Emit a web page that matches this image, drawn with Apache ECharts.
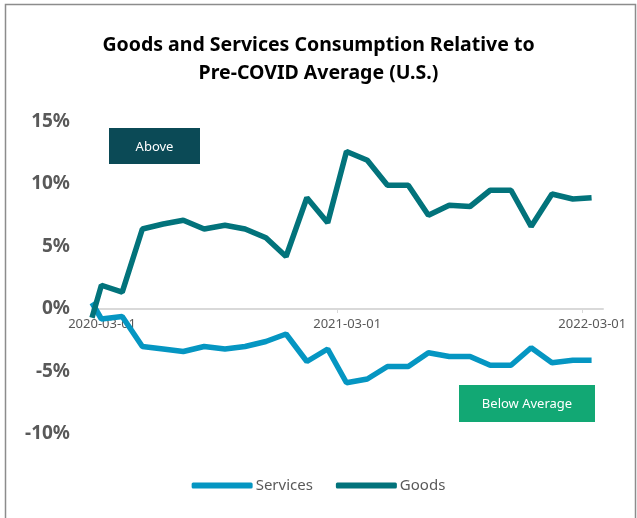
<!DOCTYPE html>
<html>
<head>
<meta charset="utf-8">
<script src="https://cdn.jsdelivr.net/npm/echarts@6/dist/echarts.min.js"></script>
<style>
  html, body { margin: 0; padding: 0; background: #fff; }
  #chart { width: 637px; height: 518px; }
</style>
</head>
<body>
<div id="chart"></div>
<script>
// monthly readings, % vs pre-COVID average
var dates = [
  '2020-03-01', '2020-03-15', '2020-04-15', '2020-05-15', '2020-06-15', '2020-07-15',
  '2020-08-15', '2020-09-15', '2020-10-15', '2020-11-15', '2020-12-15', '2021-01-15',
  '2021-02-15', '2021-03-15', '2021-04-15', '2021-05-15', '2021-06-15', '2021-07-15',
  '2021-08-15', '2021-09-15', '2021-10-15', '2021-11-15', '2021-12-15', '2022-01-15',
  '2022-02-15', '2022-03-15'
];
var services = [0.5, -0.8, -0.6, -3.0, -3.2, -3.4, -3.0, -3.2, -3.0, -2.6, -2.0, -4.2,
  -3.2, -5.9, -5.6, -4.6, -4.6, -3.5, -3.8, -3.8, -4.5, -4.5, -3.1, -4.3, -4.1, -4.1];
var goods = [-0.7, 1.9, 1.35, 6.4, 6.8, 7.1, 6.4, 6.7, 6.4, 5.7, 4.2, 8.9,
  6.9, 12.6, 11.9, 9.9, 9.9, 7.5, 8.3, 8.2, 9.5, 9.5, 6.6, 9.2, 8.8, 8.9];
var tickLabels = ['2020-03-01', '2021-03-01', '2022-03-01'];

var DAY = 86400000;
var t0 = Date.parse(tickLabels[0] + 'T00:00:00Z');
var dayOf = function (s) {
  return Math.round((Date.parse(s + 'T00:00:00Z') - t0) / DAY);
};
var tickDays = tickLabels.map(dayOf);
// Excel-style labels sit a little right of their tick
var labelDays = tickDays.map(function (d) { return d + 15; });

var toPairs = function (vals) {
  return vals.map(function (v, i) { return [dayOf(dates[i]), v]; });
};

var yMin = -10, yMax = 15;
var gridTop = 121.5, gridBottom = 84, chartH = 518;
// lift the x axis (line, ticks, labels) up to the 0% level
var zeroOffset = -(chartH - gridTop - gridBottom) * (0 - yMin) / (yMax - yMin);

var font = 'Noto Sans';
var myChart = echarts.init(document.getElementById('chart'));

var option = {
  animation: false,
  backgroundColor: '#fff',
  title: {
    text: 'Goods and Services Consumption Relative to\nPre-COVID Average (U.S.)',
    left: 'center',
    top: 26,
    textStyle: {
      fontFamily: font,
      fontSize: 19.5,
      fontWeight: 'bold',
      color: '#000',
      lineHeight: 28
    }
  },
  legend: {
    bottom: 20,
    left: 'center',
    icon: 'roundRect',
    itemWidth: 61,
    itemHeight: 6,
    itemGap: 23,
    textStyle: { fontFamily: font, fontSize: 15, color: '#595959', padding: [0, 0, 0, -2] },
    data: ['Services', 'Goods']
  },
  grid: {
    left: 92,
    right: 34,
    top: gridTop,
    bottom: gridBottom
  },
  xAxis: {
    type: 'value',
    min: 0,
    max: 761,
    offset: zeroOffset,
    splitLine: { show: false },
    axisLine: { onZero: false, lineStyle: { color: '#d9d9d9', width: 2 } },
    axisTick: {
      show: true,
      length: 4,
      customValues: tickDays,
      lineStyle: { color: '#d9d9d9', width: 1 }
    },
    axisLabel: {
      customValues: labelDays,
      margin: 9,
      fontFamily: font,
      fontSize: 13,
      color: '#595959',
      formatter: function (v) {
        var i = labelDays.indexOf(v);
        return i >= 0 ? tickLabels[i] : '';
      }
    }
  },
  yAxis: {
    type: 'value',
    min: yMin,
    max: yMax,
    interval: 5,
    splitLine: { show: false },
    axisLine: { show: false },
    axisTick: { show: false },
    axisLabel: {
      margin: 22,
      fontFamily: font,
      fontSize: 19,
      fontWeight: 'bold',
      color: '#595959',
      formatter: '{value}%'
    }
  },
  graphic: [
    {
      type: 'rect',
      left: 3, top: 2,
      shape: { width: 630, height: 530 },
      style: { fill: 'none', stroke: '#8c8c8c', lineWidth: 1.5 },
      silent: true
    },
    {
      type: 'group',
      left: 109, top: 128,
      children: [
        { type: 'rect', shape: { width: 91, height: 36 }, style: { fill: '#0b4a56' } },
        {
          type: 'text', x: 45.5, y: 19,
          style: { text: 'Above', fill: '#fff', font: '13px "Noto Sans"', align: 'center', verticalAlign: 'middle' }
        }
      ]
    },
    {
      type: 'group',
      left: 459, top: 385,
      children: [
        { type: 'rect', shape: { width: 136, height: 37 }, style: { fill: '#12a874' } },
        {
          type: 'text', x: 68, y: 19.5,
          style: { text: 'Below Average', fill: '#fff', font: '13px "Noto Sans"', align: 'center', verticalAlign: 'middle' }
        }
      ]
    }
  ],
  series: [
    {
      name: 'Services',
      type: 'line',
      data: toPairs(services),
      showSymbol: false,
      lineStyle: { color: '#0596c2', width: 5.5 },
      itemStyle: { color: '#0596c2' }
    },
    {
      name: 'Goods',
      type: 'line',
      data: toPairs(goods),
      showSymbol: false,
      lineStyle: { color: '#02737b', width: 5.5 },
      itemStyle: { color: '#02737b' }
    }
  ]
};
myChart.setOption(option);
</script>
</body>
</html>
